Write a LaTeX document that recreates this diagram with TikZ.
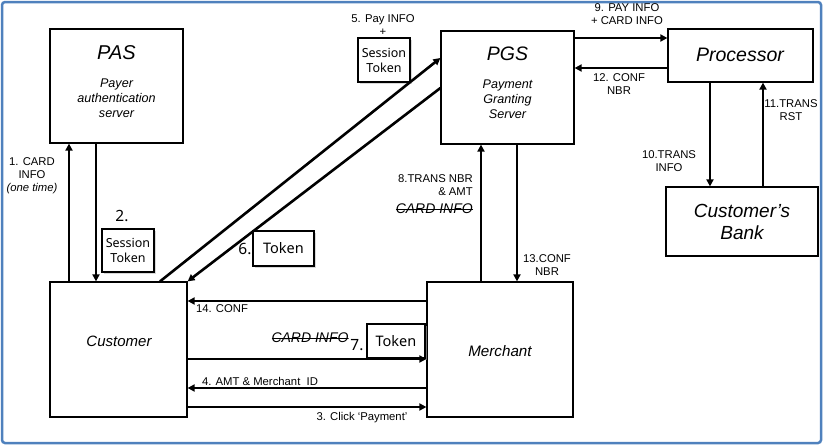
\documentclass[tikz,border=0pt]{standalone}
\usepackage{fontspec}
\setmainfont{Liberation Sans}
\newfontfamily\tokfont{Noto Sans}
\usepackage{xcolor}
\usepackage{tikz}
\usetikzlibrary{arrows.meta, shadows, calc}
\definecolor{frameblue}{RGB}{79, 129, 189}
\definecolor{shadowgray}{RGB}{190, 190, 190}

\tikzset{
    box/.style={draw, line width=1.2pt, inner sep=0pt},
    tokbox/.style={draw, line width=1.1pt, fill=white, inner sep=0pt, align=center,
        font=\tokfont\fontsize{12.5}{15}\selectfont,
        drop shadow={shadow xshift=2pt, shadow yshift=-2pt, fill=shadowgray, opacity=.6}},
    flow/.style={line width=2.6pt, -{Triangle[length=7pt, width=7pt]}},
    lbl/.style={font=\fontsize{11.3}{12.8}\selectfont, align=center, inner sep=0pt},
    struck/.style={lbl, font=\itshape\fontsize{14}{16}\selectfont,
        path picture={\draw[line width=.7pt] (path picture bounding box.west) -- (path picture bounding box.east);}},
    step num/.style={font=\tokfont\fontsize{15.5}{17}\selectfont, inner sep=0pt}
}

\begin{document}
\begin{tikzpicture}[x=1pt, y=-1pt]
    \useasboundingbox (0,0) rectangle (823,445);
    % Frame
    \draw[frameblue, line width=2.5pt, rounded corners=3pt] (2,2) rectangle (821,443);

    % Boxes
    \node[box, minimum width=133pt, minimum height=114pt] (pas) at (116.5,86) {};
    \node[box, minimum width=133pt, minimum height=113pt] (pgs) at (507.5,87.5) {};
    \node[box, minimum width=145pt, minimum height=53pt] (proc) at (740.5,55.5) {};
    \node[box, minimum width=152pt, minimum height=69pt] (bank) at (742,221.5) {};
    \node[box, minimum width=137pt, minimum height=135pt] (cust) at (118.5,349.5) {};
    \node[box, minimum width=146pt, minimum height=135pt] (merch) at (500,349.5) {};

    % Box texts
    \node[font=\itshape\fontsize{20}{22}\selectfont] (pastitle) at (116.5,53) {PAS};
    \node[font=\itshape\fontsize{12.6}{15}\selectfont, align=center] (passub) at (116.5,98) {Payer\\authentication\\server};
    \node[font=\itshape\fontsize{19.5}{22}\selectfont] (pgstitle) at (507.5,54) {PGS};
    \node[font=\itshape\fontsize{12.6}{15}\selectfont, align=center] (pgssub) at (507.5,99) {Payment\\Granting\\Server};
    \node[font=\itshape\fontsize{19.5}{22}\selectfont] (proctext) at (740,55) {Processor};
    \node[font=\itshape\fontsize{19}{22}\selectfont, align=center] (banktext) at (742,222) {Customer’s\\Bank};
    \node[font=\itshape\fontsize{15}{17}\selectfont] (custtext) at (119,341) {Customer};
    \node[font=\itshape\fontsize{15.2}{17}\selectfont] (merchtext) at (500,351) {Merchant};

    % Tokens
    \node[tokbox, minimum width=52pt, minimum height=43pt] (tok2) at (128,250.5) {Session\\Token};
    \node[tokbox, minimum width=52pt, minimum height=44pt] (tok5) at (384,60) {Session\\Token};
    \node[tokbox, minimum width=61pt, minimum height=35pt, font=\tokfont\fontsize{14.5}{16}\selectfont] (tok6) at (283.5,248.5) {Token};
    \node[tokbox, minimum width=58pt, minimum height=34pt, font=\tokfont\fontsize{14.5}{16}\selectfont] (tok7) at (396,341) {Token};

    % Vertical flows
    \draw[flow] (cust.north -| 69,0) -- (pas.south -| 69,0);
    \draw[flow] (pas.south -| 96,0) -- (cust.north -| 96,0);
    \draw[flow] (merch.north -| 481,0) -- (pgs.south -| 481,0);
    \draw[flow] (pgs.south -| 517,0) -- (merch.north -| 517,0);
    \draw[flow] (proc.south -| 710,0) -- (bank.north -| 710,0);
    \draw[flow] (bank.north -| 763,0) -- (proc.south -| 763,0);

    % Diagonal flows
    \draw[flow] (cust.north -| 160,0) -- (pgs.west |- 0,58);
    \draw[flow] (pgs.west |- 0,88) -- (cust.north east);

    % Horizontal flows
    \draw[flow] (pgs.east |- 0,38) -- (proc.west |- 0,38);
    \draw[flow] (proc.west |- 0,68) -- (pgs.east |- 0,68);
    \foreach \y/\from/\to in {301/merch.west/cust.east, 359/cust.east/merch.west,
        388/merch.west/cust.east, 407/cust.east/merch.west}
        \draw[flow] (\from |- 0,\y) -- (\to |- 0,\y);

    % Labels
    \node[lbl] (l1) at (32,176) {1. CARD\\INFO\\\textit{(one time)}};
    \node[step num] (l2) at (122,216) {2.};
    \node[lbl] (l5) at (383,20) {5. Pay INFO};
    \node[lbl] (l5plus) at (383,32) {+};
    \node[step num] (l6) at (245,249) {6.};
    \node[lbl, anchor=east, align=right] (l8) at (473,185) {8.TRANS NBR\\\& AMT};
    \node[struck, anchor=east] (l8card) at (473,209) {CARD INFO};
    \node[lbl] (l9) at (627,14) {9. PAY INFO\\+ CARD INFO};
    \node[lbl] (l10) at (669,161) {10.TRANS\\INFO};
    \node[lbl] (l11) at (791,110) {11.TRANS\\RST};
    \node[lbl] (l12) at (619,84) {12. CONF\\NBR};
    \node[lbl] (l13) at (547,265) {13.CONF\\NBR};
    \node[lbl] (l14) at (222,309) {14. CONF};
    \node[struck] (l7card) at (310,338) {CARD INFO};
    \node[step num] (l7) at (357,345) {7.};
    \node[lbl] (l4) at (260,381) {4. AMT \& Merchant\ \ ID};
    \node[lbl] (l3) at (362,418) {3. Click ‘Payment’};
\end{tikzpicture}
\end{document}
